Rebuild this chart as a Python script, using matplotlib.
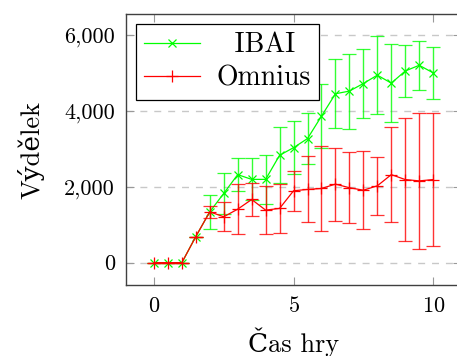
import matplotlib
matplotlib.use("Agg")
import matplotlib.pyplot as plt
from matplotlib.lines import Line2D
from matplotlib.ticker import FuncFormatter

plt.rcParams['font.family'] = ['cmr10', 'DejaVu Serif']
plt.rcParams['axes.formatter.use_mathtext'] = True

# game time (x) and earnings for both players
cas = [0, 0.5, 1, 1.5, 2, 2.5, 3, 3.5, 4, 4.5, 5, 5.5, 6, 6.5, 7, 7.5, 8, 8.5, 9, 9.5, 10]

ibai = [0, 0, 0, 690, 1340, 1825, 2320, 2195, 2195, 2830, 3030, 3270, 3860,
        4450, 4520, 4720, 4940, 4730, 5050, 5200, 5000]
ibai_err = [0, 0, 0, 0, 450, 530, 440, 550, 650, 740, 690, 660, 840,
            910, 990, 920, 1020, 1025, 680, 650, 675]

omnius = [0, 0, 0, 690, 1340, 1210, 1410, 1665, 1385, 1430, 1895, 1930, 1955,
          2070, 1975, 1910, 2025, 2320, 2190, 2155, 2190]
omnius_err = [0, 0, 0, 0, 160, 380, 650, 440, 625, 650, 525, 870, 1120,
              960, 935, 1035, 760, 1250, 1610, 1800, 1740]

green = (0, 1, 0)
red = (1, 0, 0)

fig = plt.figure(figsize=(4.57, 3.56), dpi=100)
ax = fig.add_axes([0.2757, 0.1986, 0.7333, 0.762])

ax.errorbar(cas, ibai, yerr=ibai_err, color=green, marker='x', ms=6, mew=0.9,
            lw=0.9, elinewidth=1.0, capsize=5, capthick=1.0, ecolor=(0, 1, 0, 0.8),
            zorder=3)
ax.errorbar(cas, omnius, yerr=omnius_err, color=red, marker='+', ms=8, mew=0.9,
            lw=0.9, elinewidth=1.0, capsize=5, capthick=1.0, ecolor=(1, 0, 0, 0.8),
            zorder=4)

ax.set_xlim(-1, 11)
ax.set_ylim(-595, 6550)
ax.set_xticks([0, 5, 10])
ax.set_yticks([0, 2000, 4000, 6000])
ax.yaxis.set_major_formatter(FuncFormatter(lambda v, p: f"{int(v):,}"))
ax.grid(axis='y', color='#c8c8c8', linestyle=(0, (5, 5)), lw=1.0, zorder=0)
ax.tick_params(direction='in', top=True, right=True, color='#999999',
               length=6, width=0.8, labelsize=16, pad=8)
for s in ax.spines.values():
    s.set_color('#404040')
    s.set_linewidth(1.0)

ax.set_xlabel('Čas hry', fontsize=19, labelpad=8)
ax.set_ylabel('Výdělek', fontsize=19, labelpad=14)

handles = [Line2D([], [], color=green, marker='x', ms=6, mew=0.9, lw=0.9),
           Line2D([], [], color=red, marker='+', ms=8, mew=0.9, lw=0.9)]
leg = ax.legend(handles, ['  IBAI', 'Omnius'], loc='upper left', fontsize=20,
                fancybox=False, framealpha=1, edgecolor='black', borderpad=0.3,
                handlelength=2.0, labelspacing=0.25, borderaxespad=0.35,
                handletextpad=0.6)
leg.get_frame().set_linewidth(0.9)

fig.savefig('out.png', dpi=100)
